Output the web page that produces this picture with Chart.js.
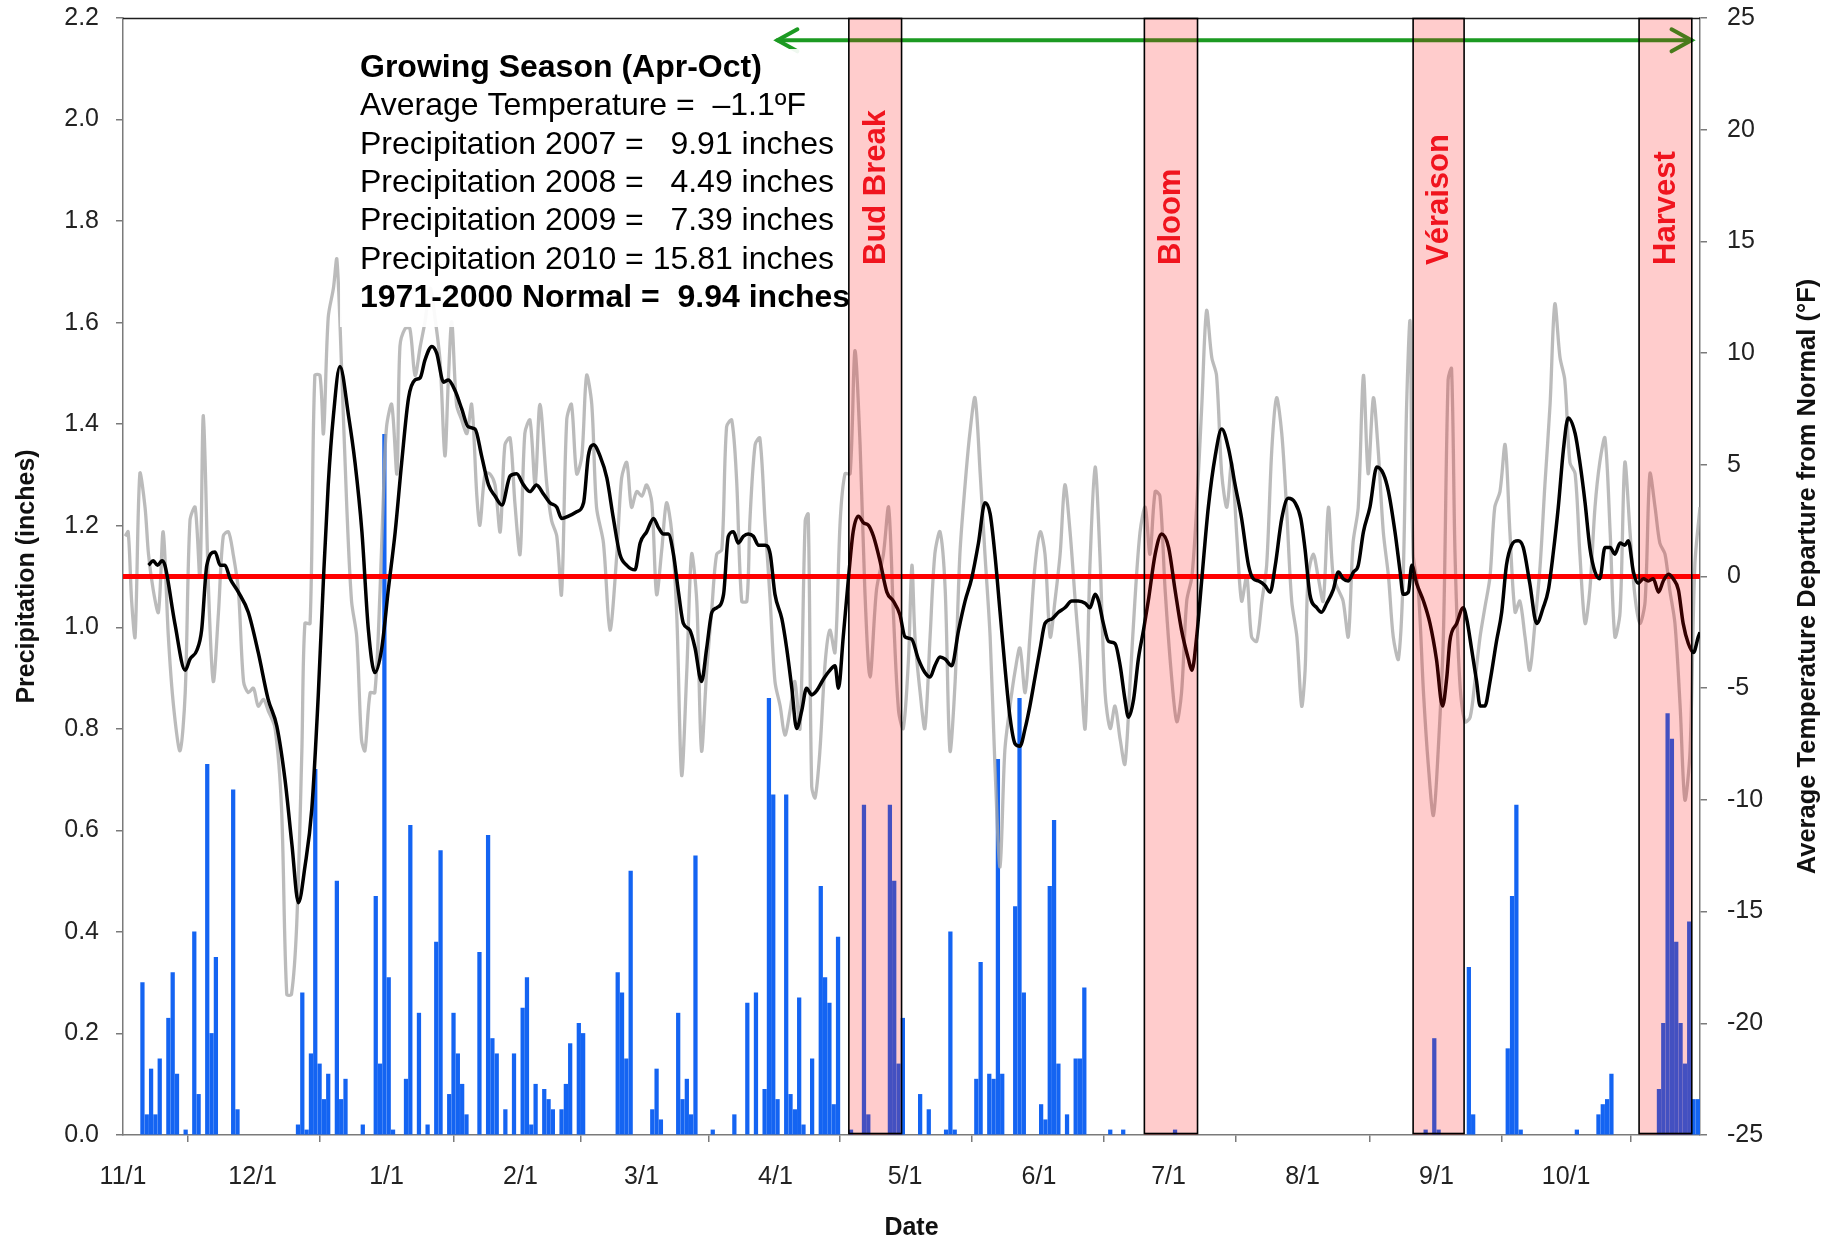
<!DOCTYPE html>
<html>
<head>
<meta charset="utf-8">
<script src="https://cdn.jsdelivr.net/npm/chart.js@4.4.1/dist/chart.umd.min.js"></script>
<style>
  html, body { margin: 0; padding: 0; background: #ffffff; }
  canvas { display: block; }
</style>
</head>
<body>
<canvas id="chart" width="1835" height="1240"></canvas>
<script>
// Day 0 is 1 November; the axis covers one full 365-day year (Nov–Oct).
const monthStartDay = [0, 30, 61, 92, 120, 151, 181, 212, 242, 273, 304, 334];
const monthLabels = ['11/1', '12/1', '1/1', '2/1', '3/1', '4/1', '5/1', '6/1', '7/1', '8/1', '9/1', '10/1'];
const precipTicks = [0, 0.2, 0.4, 0.6, 0.8, 1.0, 1.2, 1.4, 1.6, 1.8, 2.0, 2.2];
const departureTicks = [-25, -20, -15, -10, -5, 0, 5, 10, 15, 20, 25];

// Daily precipitation (inches), by day of the Nov–Oct year
const rainDay = [
  4, 5, 6, 7, 8, 10, 11, 12, 14, 16, 17, 19, 20, 21, 25, 26,
  40, 41, 42, 43, 44, 45, 46, 47, 49, 50, 51, 55, 58, 59, 60, 61, 62,
  65, 66, 68, 70, 72, 73, 75, 76, 77, 78, 79, 82, 84, 85, 86, 88,
  90, 92, 93, 94, 95, 97, 98, 99, 101, 102, 103, 105, 106,
  114, 115, 116, 117, 122, 123, 124, 128, 129, 130, 131, 132, 136,
  141, 144, 146, 148, 149, 150, 151, 153, 154, 155, 156, 157, 159,
  161, 162, 163, 164, 165, 168, 171, 172, 177, 178, 179, 180,
  184, 186, 190, 191, 192, 197, 198, 200, 201, 202, 203, 206, 207, 208,
  212, 213, 214, 215, 216, 218, 220, 221, 222, 228, 231, 243,
  301, 303, 304, 311, 312, 320, 321, 322, 323, 336, 341, 342, 343, 344,
  355, 356, 357, 358, 359, 360, 361, 362, 363, 364
];
const rainInches = [
  0.30, 0.04, 0.13, 0.04, 0.15, 0.23, 0.32, 0.12, 0.01, 0.40, 0.08, 0.73, 0.20, 0.35, 0.68, 0.05,
  0.02, 0.28, 0.01, 0.16, 0.72, 0.14, 0.07, 0.12, 0.50, 0.07, 0.11, 0.02, 0.47, 0.14, 1.38, 0.31, 0.01,
  0.11, 0.61, 0.24, 0.02, 0.38, 0.56, 0.08, 0.24, 0.16, 0.10, 0.04, 0.36, 0.59, 0.19, 0.16, 0.05,
  0.16, 0.25, 0.31, 0.02, 0.10, 0.09, 0.07, 0.05, 0.05, 0.10, 0.18, 0.22, 0.20,
  0.32, 0.28, 0.15, 0.52, 0.05, 0.13, 0.03, 0.24, 0.07, 0.11, 0.04, 0.55, 0.01,
  0.04, 0.26, 0.28, 0.09, 0.86, 0.67, 0.07, 0.67, 0.08, 0.05, 0.27, 0.02, 0.15,
  0.49, 0.31, 0.26, 0.06, 0.39, 0.01, 0.65, 0.04, 0.65, 0.50, 0.14, 0.23,
  0.08, 0.05, 0.01, 0.40, 0.01, 0.11, 0.34, 0.12, 0.11, 0.74, 0.12, 0.45, 0.86, 0.28,
  0.06, 0.03, 0.49, 0.62, 0.14, 0.04, 0.15, 0.15, 0.29, 0.01, 0.01, 0.01,
  0.01, 0.19, 0.01, 0.33, 0.04, 0.17, 0.47, 0.65, 0.01, 0.01, 0.04, 0.06, 0.07, 0.12,
  0.09, 0.22, 0.83, 0.78, 0.38, 0.22, 0.14, 0.42, 0.07, 0.07
];

// Daily average temperature departure from normal (°F)
const dailyDay = [
  0.5, 1.2, 2.0, 2.8, 3.9, 5.1, 5.9, 7.0, 8.2, 9.3,
  10.5, 11.7, 13.2, 14.4, 15.5, 16.7, 17.8, 18.6, 19.8, 20.9,
  22.1, 23.2, 24.4, 25.5, 26.7, 27.9, 29.0, 30.2, 31.3, 32.5,
  33.6, 35.2, 36.7, 37.9, 39.0, 40.2, 41.4, 42.1, 43.3, 44.4,
  45.6, 46.4, 47.5, 48.7, 49.5, 50.6, 51.8, 52.9, 54.1, 55.2,
  56.0, 57.2, 58.3, 59.5, 60.3, 61.0, 62.2, 63.4, 64.1, 65.3,
  66.4, 67.6, 68.8, 69.9, 71.1, 72.2, 73.4, 74.5, 75.3, 76.1,
  77.2, 78.4, 79.6, 80.7, 81.9, 82.6, 83.8, 84.9, 86.1, 87.3,
  88.4, 89.6, 90.7, 91.9, 93.0, 94.2, 95.4, 96.5, 98.1, 99.2,
  100.4, 101.5, 102.7, 103.8, 105.0, 106.2, 107.3, 108.5, 109.6, 111.2,
  112.7, 114.3, 115.4, 116.6, 117.7, 118.9, 120.1, 121.2, 122.4, 123.5,
  124.7, 125.8, 127.0, 128.2, 129.3, 130.5, 131.6, 132.8, 133.9, 135.1,
  136.3, 137.4, 138.6, 139.7, 140.9, 142.0, 143.2, 144.4, 145.1, 146.3,
  147.4, 148.6, 149.8, 150.9, 152.1, 153.2, 154.4, 155.5, 156.7, 157.9,
  158.6, 159.4, 160.2, 161.3, 162.5, 163.6, 164.8, 166.0, 167.1, 168.3,
  169.4, 170.6, 171.7, 172.9, 174.4, 176.0, 177.2, 178.3, 179.5, 180.6,
  181.8, 182.6, 183.3, 184.5, 185.6, 186.8, 187.9, 189.1, 190.3, 191.4,
  192.6, 193.7, 194.9, 196.0, 197.2, 198.4, 199.5, 200.7, 201.8, 203.0,
  204.1, 205.3, 206.5, 207.6, 208.8, 209.9, 211.1, 212.3, 213.4, 214.6,
  215.7, 216.9, 218.0, 219.2, 220.4, 221.5, 222.7, 223.8, 225.0, 226.1,
  227.3, 228.5, 229.6, 230.8, 231.9, 233.1, 234.2, 235.4, 236.6, 237.7,
  238.9, 240.0, 241.2, 242.7, 243.9, 245.0, 246.2, 247.4, 248.5, 249.7,
  250.8, 252.0, 253.1, 254.3, 255.5, 256.6, 257.8, 258.9, 260.1, 261.2,
  262.4, 263.6, 264.7, 265.9, 267.0, 268.2, 269.3, 270.5, 271.7, 272.8,
  273.6, 274.3, 275.5, 276.6, 277.8, 279.0, 280.1, 281.3, 282.4, 283.6,
  284.7, 285.9, 287.1, 288.2, 289.4, 290.5, 291.7, 292.9, 294.0, 295.2,
  296.3, 297.1, 297.9, 298.6, 299.8, 301.0, 302.1, 303.3, 304.4, 305.6,
  306.7, 307.5, 308.3, 309.4, 310.6, 311.8, 312.9, 314.1, 315.2, 316.4,
  317.5, 318.7, 319.9, 321.0, 322.2, 323.3, 324.5, 325.6, 326.8, 328.0,
  329.1, 330.3, 331.4, 332.6, 333.7, 334.9, 336.1, 337.2, 338.4, 339.5,
  340.7, 341.8, 343.0, 344.2, 345.3, 346.5, 347.6, 348.8, 349.9, 351.1,
  352.3, 353.4, 354.6, 355.7, 356.9, 358.0, 359.2, 360.4, 361.5, 362.7,
  363.8, 365.0
];
const dailyDeparture = [
  1.8, 2.0, -1.1, -2.7, 4.6, 3.1, 1.0, -0.6, -1.6, 2.0,
  -2.7, -5.8, -7.8, -5.2, 2.5, 3.1, 0.0, 7.2, -0.6, -4.7,
  -1.6, 1.8, 2.0, 1.0, -0.6, -4.7, -5.2, -5.0, -5.8, -5.5,
  -6.0, -6.8, -10.4, -18.7, -18.7, -15.6, -7.8, -2.1, -2.1, 9.0,
  9.0, 6.4, 11.6, 12.9, 14.2, 9.3, 3.1, -1.1, -2.7, -7.3,
  -7.8, -5.2, -5.2, -0.6, 3.8, 6.7, 7.7, 4.6, 10.3, 11.1,
  11.1, 9.0, 10.3, 11.4, 12.9, 11.6, 9.6, 5.4, 8.8, 11.4,
  7.7, 7.0, 6.4, 7.7, 3.6, 2.3, 4.6, 4.6, 4.1, 2.0,
  5.9, 6.2, 3.3, 1.0, 6.4, 7.0, 4.1, 7.7, 4.1, 2.5,
  1.8, -0.8, 7.0, 7.7, 4.6, 5.4, 9.0, 7.7, 3.1, 1.5,
  -2.4, 1.0, 4.4, 5.1, 3.1, 3.8, 3.6, 4.1, 3.3, -0.8,
  1.2, 3.3, 2.0, -1.9, -8.9, -4.2, 1.0, -1.1, -7.8, -4.2,
  -1.4, 1.0, 1.2, 6.7, 7.0, 4.4, -1.1, -1.1, 2.5, 5.9,
  6.2, 2.5, -1.1, -4.7, -5.8, -7.1, -6.0, -4.7, -6.8, 2.5,
  2.8, -9.4, -9.9, -7.8, -3.9, -2.4, -3.4, 2.5, 4.6, 4.6,
  10.1, 5.9, -0.6, -4.5, -0.6, 1.0, 3.1, -1.6, -6.0, -6.8,
  -3.7, 0.5, -2.7, -5.2, -6.8, -2.7, 1.0, 2.0, -0.6, -7.8,
  -4.7, 1.0, 4.1, 6.4, 8.0, 4.6, 1.0, -2.7, -8.4, -13.0,
  -7.8, -5.8, -4.2, -3.2, -5.2, -2.7, 0.5, 2.0, 1.0, -2.7,
  -1.1, 1.0, 4.1, 2.0, -1.1, -3.7, -6.8, 0.5, 4.9, 1.0,
  -5.2, -6.8, -5.8, -7.3, -8.4, -4.7, -1.1, 2.0, 3.1, 1.0,
  3.8, 3.6, -0.6, -4.5, -6.5, -5.2, -1.1, 0.0, 3.1, 7.7,
  11.9, 9.8, 9.0, 4.6, 3.1, 5.1, 1.8, -1.1, 0.0, -2.7,
  -2.9, -1.1, 0.5, 5.7, 8.0, 6.4, 3.1, -1.1, -2.7, -5.8,
  -4.2, 0.0, 1.0, 0.0, -1.1, 3.1, 0.0, -0.6, -1.1, -2.7,
  1.5, 3.1, 9.0, 4.6, 8.0, 5.7, 2.0, 0.0, -2.7, -3.7,
  0.0, 7.7, 11.4, 1.0, -0.6, -5.2, -8.4, -10.7, -7.8, -2.7,
  8.8, 9.3, 1.0, -4.7, -6.5, -6.3, -4.7, -2.7, -1.4, 0.0,
  3.1, 3.8, 5.9, 2.0, -1.6, -1.1, -2.7, -4.2, -2.1, 0.5,
  4.1, 7.7, 12.2, 9.8, 8.8, 5.1, 4.6, 1.0, -2.1, -0.6,
  3.1, 5.1, 6.2, 2.0, -2.7, -1.6, 5.1, 2.0, -0.8, -2.1,
  -1.1, 4.6, 3.1, 1.5, 1.0, -0.6, -2.1, -5.8, -10.0, -7.8,
  0.5, 3.1
];

// Running-mean temperature departure (°F)
const smoothDay = [
  5.9, 7.0, 8.0, 9.0, 9.7, 12.0, 14.4, 15.5, 17.1, 18.2,
  19.4, 21.3, 22.5, 23.6, 24.8, 26.7, 29.0, 31.3, 33.6, 35.6,
  37.5, 39.1, 40.6, 42.1, 43.7, 45.2, 46.4, 47.5, 48.7, 50.2,
  52.2, 53.7, 55.3, 56.8, 58.3, 59.9, 61.4, 63.0, 64.5, 66.1,
  67.6, 68.8, 69.9, 71.5, 72.6, 74.2, 75.3, 76.9, 78.4, 79.9,
  81.5, 83.0, 84.6, 86.1, 87.7, 89.6, 91.1, 92.7, 94.2, 95.7,
  97.3, 98.8, 100.4, 101.5, 103.1, 105.0, 106.6, 107.7, 108.9, 110.4,
  112.0, 113.5, 115.0, 116.6, 118.5, 119.7, 121.2, 122.8, 123.9, 125.1,
  126.2, 127.4, 128.5, 129.7, 131.2, 132.4, 133.9, 135.1, 136.3, 137.4,
  139.0, 140.1, 141.3, 142.4, 143.6, 144.7, 145.9, 147.1, 148.6, 149.8,
  150.9, 152.5, 153.6, 154.8, 155.9, 157.1, 158.2, 159.4, 160.6, 162.1,
  163.6, 164.8, 165.6, 166.7, 167.9, 169.0, 170.2, 171.4, 172.5, 173.7,
  175.2, 176.8, 178.3, 179.8, 181.0, 182.5, 184.1, 185.6, 186.8, 187.9,
  189.1, 190.3, 191.8, 193.4, 194.9, 196.4, 198.0, 199.5, 200.7, 201.8,
  203.0, 204.2, 205.3, 206.5, 207.6, 208.8, 209.9, 211.1, 212.3, 213.4,
  215.0, 216.5, 218.0, 219.6, 221.1, 222.7, 223.8, 225.0, 225.8, 226.9,
  228.1, 229.6, 230.8, 231.9, 232.7, 233.9, 235.0, 236.2, 237.3, 238.9,
  240.4, 242.0, 243.5, 245.0, 246.6, 247.4, 248.5, 249.7, 251.2, 252.8,
  254.3, 255.9, 257.4, 258.9, 260.5, 261.6, 262.8, 264.3, 265.5, 266.7,
  268.2, 269.7, 271.3, 272.6, 273.6, 274.7, 276.3, 277.4, 278.6, 280.1,
  281.3, 282.4, 283.6, 284.8, 285.9, 287.1, 288.6, 290.2, 291.7, 292.9,
  294.4, 295.6, 296.3, 297.5, 298.3, 299.4, 301.0, 302.5, 304.0, 305.4,
  306.4, 307.1, 308.7, 310.2, 311.0, 312.1, 313.3, 314.1, 315.2, 316.4,
  317.9, 319.1, 320.2, 321.4, 322.9, 324.1, 325.6, 327.2, 328.7, 329.9,
  331.0, 332.2, 333.4, 334.5, 336.1, 337.2, 338.4, 339.5, 340.7, 341.8,
  343.0, 344.2, 345.3, 346.5, 347.6, 348.4, 349.6, 350.7, 351.9, 353.0,
  354.2, 355.4, 356.5, 357.7, 358.8, 360.0, 361.1, 362.3, 363.5, 364.6,
  365.0
];
const smoothDeparture = [
  0.5, 0.7, 0.5, 0.7, 0.5, -2.1, -4.2, -3.7, -3.3, -2.4,
  0.5, 1.1, 0.5, 0.5, -0.1, -0.7, -1.6, -3.4, -5.5, -6.7,
  -9.1, -12.0, -14.6, -13.0, -10.4, -5.3, -0.1, 4.1, 7.2, 9.4,
  7.2, 5.1, 2.0, -2.4, -4.3, -3.2, -0.6, 2.0, 5.1, 8.0,
  8.8, 8.9, 9.7, 10.3, 10.0, 8.7, 8.8, 8.3, 7.5, 6.7,
  6.6, 5.4, 4.1, 3.6, 3.2, 4.5, 4.6, 4.1, 3.8, 4.1,
  3.7, 3.3, 3.1, 2.6, 2.7, 2.9, 3.3, 5.4, 5.9, 5.4,
  4.4, 2.6, 1.0, 0.5, 0.3, 1.5, 2.0, 2.6, 2.2, 1.9,
  1.9, 1.0, -0.6, -2.1, -2.4, -3.2, -4.7, -3.2, -1.6, -1.4,
  -0.8, 1.8, 2.0, 1.5, 1.8, 1.9, 1.8, 1.4, 1.4, 1.0,
  -0.8, -1.9, -3.2, -5.0, -6.8, -6.0, -5.0, -5.3, -5.1, -4.6,
  -4.2, -4.0, -5.0, -2.7, -0.1, 2.0, 2.7, 2.4, 2.3, 1.8,
  0.7, -0.7, -1.1, -1.7, -2.7, -2.8, -3.7, -4.3, -4.5, -4.0,
  -3.6, -3.7, -4.0, -2.4, -1.1, -0.1, 1.5, 3.3, 2.8, 1.0,
  -1.6, -4.2, -6.3, -7.5, -7.6, -6.8, -5.8, -4.5, -3.2, -2.1,
  -1.9, -1.6, -1.4, -1.1, -1.1, -1.2, -1.4, -0.8, -1.1, -2.1,
  -2.9, -3.0, -4.0, -5.5, -6.3, -5.5, -3.7, -2.4, -1.1, 1.0,
  1.9, 1.3, -0.6, -2.4, -3.7, -4.2, -2.7, -0.1, 3.1, 5.4,
  6.6, 5.7, 4.1, 2.6, 0.5, -0.1, -0.2, -0.4, -0.7, 0.5,
  2.6, 3.5, 3.3, 2.6, 1.2, -0.8, -1.4, -1.6, -1.2, -0.6,
  0.2, -0.1, -0.2, 0.2, 0.5, 2.0, 3.1, 4.9, 4.6, 3.8,
  2.0, 0.2, -0.8, -0.7, 0.5, -0.3, -1.1, -2.1, -3.7, -5.8,
  -4.5, -2.9, -2.1, -1.4, -1.9, -3.2, -4.7, -5.8, -5.8, -4.7,
  -2.9, -1.6, 0.5, 1.4, 1.6, 1.3, -0.3, -2.1, -1.4, -0.6,
  1.0, 3.1, 5.7, 7.1, 6.4, 5.1, 3.3, 1.3, 0.2, -0.1,
  1.3, 1.3, 1.0, 1.5, 1.4, 1.6, 0.2, -0.3, -0.1, -0.2,
  -0.1, -0.7, -0.2, 0.1, -0.1, -0.6, -2.1, -3.0, -3.4, -2.7,
  -2.5
];

// Zero-departure reference line
const normalDay = [0, 365];
const normalDeparture = [0, 0];

// Grapevine phenology stages (day of year, start / end)
const stageNames = ['Bud Break', 'Bloom', 'Véraison', 'Harvest'];
const stageStart = [168.0, 236.4, 298.6, 350.9];
const stageEnd = [180.2, 248.7, 310.4, 363.1];

// Growing season, April through October
const seasonStart = 151;
const seasonEnd = 363.5;
const seasonArrowLevel = 24;

const summaryLines = [
  'Growing Season (Apr-Oct)',
  'Average Temperature =  \u20131.1\u00BAF',
  'Precipitation 2007 =   9.91 inches',
  'Precipitation 2008 =   4.49 inches',
  'Precipitation 2009 =   7.39 inches',
  'Precipitation 2010 = 15.81 inches',
  '1971-2000 Normal =  9.94 inches'
];
const summaryBold = [true, false, false, false, false, false, true];

const FONT = '"Liberation Sans", Arial, Helvetica, sans-serif';
Chart.defaults.font.family = FONT;

const overlayPlugin = {
  id: 'overlayPlugin',
  afterDatasetsDraw(chart) {
    const { ctx, chartArea: a, scales } = chart;
    const xs = scales.x, ts = scales.temp;
    ctx.save();

    // top frame edge
    ctx.strokeStyle = '#1e1e1e';
    ctx.lineWidth = 1.5;
    ctx.beginPath();
    ctx.moveTo(a.left, a.top + 0.5);
    ctx.lineTo(a.right, a.top + 0.5);
    ctx.stroke();

    // growing-season double arrow
    const ax0 = xs.getPixelForValue(seasonStart);
    const ax1 = xs.getPixelForValue(seasonEnd);
    const ay = ts.getPixelForValue(seasonArrowLevel);
    ctx.strokeStyle = '#1c9a22';
    ctx.lineWidth = 4;
    ctx.lineCap = 'round';
    ctx.lineJoin = 'miter';
    ctx.beginPath();
    ctx.moveTo(ax0 + 2, ay);
    ctx.lineTo(ax1 - 2, ay);
    ctx.stroke();
    ctx.beginPath();
    ctx.moveTo(ax0 + 22, ay - 11);
    ctx.lineTo(ax0 + 2, ay);
    ctx.lineTo(ax0 + 22, ay + 11);
    ctx.moveTo(ax1 - 22, ay - 11);
    ctx.lineTo(ax1 - 2, ay);
    ctx.lineTo(ax1 - 22, ay + 11);
    ctx.stroke();

    // phenology bands
    const h = a.bottom - a.top;
    stageNames.forEach((name, i) => {
      const l = xs.getPixelForValue(stageStart[i]);
      const r = xs.getPixelForValue(stageEnd[i]);
      ctx.fillStyle = 'rgba(255, 0, 0, 0.2)';
      ctx.fillRect(l, a.top, r - l, h);
      ctx.strokeStyle = '#000000';
      ctx.lineWidth = 1.6;
      ctx.strokeRect(l, a.top + 0.5, r - l, h - 2);
    });

    // stage names, written upward inside each band
    ctx.fillStyle = '#f0141e';
    ctx.font = 'bold 31px ' + FONT;
    ctx.textAlign = 'left';
    ctx.textBaseline = 'middle';
    stageNames.forEach((name, i) => {
      const cx = (xs.getPixelForValue(stageStart[i]) + xs.getPixelForValue(stageEnd[i])) / 2;
      ctx.save();
      ctx.translate(cx + 1, a.top + 247);
      ctx.rotate(-Math.PI / 2);
      ctx.fillText(name, 0, 0);
      ctx.restore();
    });

    // growing-season summary block
    const bx = a.left + 217, by = a.top + 31;
    ctx.fillStyle = 'rgba(255, 255, 255, 0.93)';
    ctx.fillRect(bx, by, 508, 278);
    ctx.fillStyle = '#000000';
    ctx.textAlign = 'left';
    ctx.textBaseline = 'middle';
    summaryLines.forEach((line, i) => {
      ctx.font = (summaryBold[i] ? 'bold ' : '') + '32px ' + FONT;
      ctx.fillText(line, a.left + 237, a.top + 50 + i * 38.4);
    });

    // right-hand axis title, reading upward
    ctx.fillStyle = '#111111';
    ctx.font = 'bold 25.5px ' + FONT;
    ctx.textAlign = 'center';
    ctx.textBaseline = 'middle';
    ctx.save();
    ctx.translate(chart.width - 27, (a.top + a.bottom) / 2);
    ctx.rotate(-Math.PI / 2);
    ctx.fillText('Average Temperature Departure from Normal (\u00B0F)', 0, 0);
    ctx.restore();

    ctx.restore();
  }
};

const axisGrey = '#7a7a7a';
const tickFont = { size: 25 };

// Fixed axis box sizes; label overhang is not allowed to shrink the plot area
function fixVertical(width) {
  return (s) => { s.width = width; s.paddingTop = 0; s.paddingBottom = 0; };
}

new Chart(document.getElementById('chart'), {
  type: 'line',
  data: {
    datasets: [
      {
        type: 'bar',
        label: 'Precipitation',
        data: rainDay.map((d, i) => ({ x: d + 0.5, y: rainInches[i] })),
        yAxisID: 'precip',
        backgroundColor: '#1464f2',
        borderWidth: 0,
        barThickness: 3.6,
        grouped: false,
        order: 4
      },
      {
        label: 'Daily departure',
        data: dailyDay.map((d, i) => ({ x: d, y: dailyDeparture[i] })),
        yAxisID: 'temp',
        borderColor: 'rgba(168, 168, 168, 0.78)',
        borderWidth: 3.3,
        pointRadius: 0,
        tension: 0.3,
        order: 3
      },
      {
        label: 'Normal',
        data: normalDay.map((d, i) => ({ x: d, y: normalDeparture[i] })),
        yAxisID: 'temp',
        borderColor: '#ff0000',
        borderWidth: 5,
        pointRadius: 0,
        order: 2
      },
      {
        label: 'Running mean departure',
        data: smoothDay.map((d, i) => ({ x: d, y: smoothDeparture[i] })),
        yAxisID: 'temp',
        borderColor: '#000000',
        borderWidth: 3.5,
        pointRadius: 0,
        cubicInterpolationMode: 'monotone',
        order: 1
      }
    ]
  },
  options: {
    responsive: false,
    animation: false,
    devicePixelRatio: 1,
    layout: { padding: { top: 18, left: 0, right: 0, bottom: 0 } },
    plugins: { legend: { display: false }, tooltip: { enabled: false } },
    scales: {
      x: {
        type: 'linear',
        min: 0,
        max: 365,
        offset: false,
        afterBuildTicks: (s) => { s.ticks = monthStartDay.map((v) => ({ value: v })); },
        afterFit: (s) => { s.height = 105; s.paddingLeft = 0; s.paddingRight = 0; },
        ticks: {
          autoSkip: false,
          maxRotation: 0,
          padding: 20,
          color: '#222222',
          font: tickFont,
          callback: (v, i) => monthLabels[i]
        },
        grid: { drawOnChartArea: false, drawTicks: true, tickLength: 7, color: axisGrey, lineWidth: 1.5 },
        border: { color: axisGrey, width: 1.5 },
        title: {
          display: true,
          text: 'Date',
          color: '#111111',
          font: { size: 25, weight: 'bold', lineHeight: 0.85 },
          padding: { top: 0, bottom: 1 }
        }
      },
      precip: {
        type: 'linear',
        position: 'left',
        min: 0,
        max: 2.2,
        afterBuildTicks: (s) => { s.ticks = precipTicks.map((v) => ({ value: v })); },
        afterFit: fixVertical(123),
        ticks: {
          padding: 17,
          color: '#222222',
          font: tickFont,
          callback: (v) => Number(v).toFixed(1)
        },
        grid: { drawOnChartArea: false, drawTicks: true, tickLength: 7, color: axisGrey, lineWidth: 1.5 },
        border: { color: axisGrey, width: 1.5 },
        title: {
          display: true,
          text: 'Precipitation (inches)',
          color: '#111111',
          font: { size: 25, weight: 'bold', lineHeight: 1.1 },
          padding: { top: 13, bottom: 0 }
        }
      },
      temp: {
        type: 'linear',
        position: 'right',
        min: -25,
        max: 25,
        afterBuildTicks: (s) => { s.ticks = departureTicks.map((v) => ({ value: v })); },
        afterFit: fixVertical(135),
        ticks: {
          padding: 20,
          color: '#222222',
          font: tickFont,
          callback: (v) => String(v)
        },
        grid: { drawOnChartArea: false, drawTicks: true, tickLength: 7, color: axisGrey, lineWidth: 1.5 },
        border: { color: axisGrey, width: 1.5 }
      }
    }
  },
  plugins: [overlayPlugin]
});
</script>
</body>
</html>
